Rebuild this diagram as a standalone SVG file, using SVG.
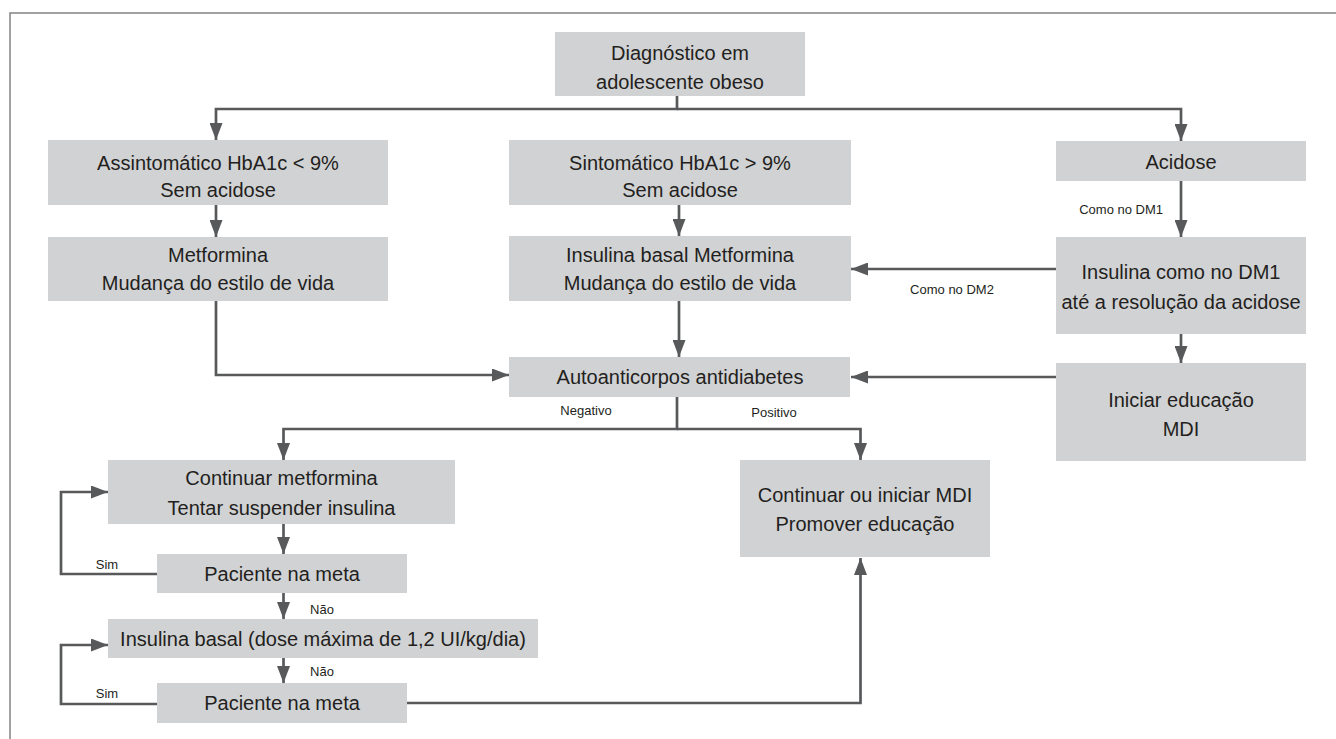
<svg xmlns="http://www.w3.org/2000/svg" width="1336" height="739" viewBox="0 0 1336 739">
<style>
.box{fill:#d1d2d4}
.t{font-family:"Liberation Sans",Arial,sans-serif;font-size:20px;fill:#231f20;text-anchor:middle;dominant-baseline:central}
.s{font-family:"Liberation Sans",Arial,sans-serif;font-size:13px;fill:#231f20;text-anchor:middle;dominant-baseline:central}
.c{fill:none;stroke:#58595b;stroke-width:2.7}
.frame{fill:none;stroke:#808285;stroke-width:1.5}
</style>
<defs>
<marker id="ah" markerUnits="userSpaceOnUse" markerWidth="17" markerHeight="13" refX="17" refY="6.5" orient="auto">
<path d="M0,0 L17,6.5 L0,13 z" fill="#58595b"/>
</marker>
</defs>
<path class="frame" d="M10,739 V13 H1336"/>
<g id="connectors">
<path class="c" d="M677,96 V109 H216 V140" marker-end="url(#ah)"/>
<path class="c" d="M677,109 H1181 V141" marker-end="url(#ah)"/>
<path class="c" d="M216,205 V237" marker-end="url(#ah)"/>
<path class="c" d="M679,205 V236" marker-end="url(#ah)"/>
<path class="c" d="M216,301 V375 H509" marker-end="url(#ah)"/>
<path class="c" d="M679,301 V357" marker-end="url(#ah)"/>
<path class="c" d="M1181,181 V237" marker-end="url(#ah)"/>
<path class="c" d="M1056,269 H851" marker-end="url(#ah)"/>
<path class="c" d="M1181,334 V363" marker-end="url(#ah)"/>
<path class="c" d="M1056,377 H851" marker-end="url(#ah)"/>
<path class="c" d="M677,397 V429 H283.5 V460" marker-end="url(#ah)"/>
<path class="c" d="M677,429 H860.5 V460" marker-end="url(#ah)"/>
<path class="c" d="M283.5,524 V554" marker-end="url(#ah)"/>
<path class="c" d="M157,574 H61 V492 H108" marker-end="url(#ah)"/>
<path class="c" d="M283.5,593 V619" marker-end="url(#ah)"/>
<path class="c" d="M283.5,658 V683" marker-end="url(#ah)"/>
<path class="c" d="M157,704 H61 V645 H108" marker-end="url(#ah)"/>
<path class="c" d="M407,703 H860.5 V558" marker-end="url(#ah)"/>
<text class="s" x="1163" y="209" style="text-anchor:end">Como no DM1</text>
<text class="s" x="952" y="289">Como no DM2</text>
<text class="s" x="586" y="410">Negativo</text>
<text class="s" x="774" y="412">Positivo</text>
<text class="s" x="107" y="564">Sim</text>
<text class="s" x="322" y="609">Não</text>
<text class="s" x="322" y="671">Não</text>
<text class="s" x="107" y="693">Sim</text>
</g>
<g id="n-diag"><rect class="box" x="555" y="32" width="250" height="64"/><text class="t" x="680" y="53">Diagnóstico em</text><text class="t" x="680" y="82">adolescente obeso</text></g>
<g id="n-assint"><rect class="box" x="48" y="140" width="340" height="65"/><text class="t" x="218" y="163">Assintomático HbA1c &lt; 9%</text><text class="t" x="218" y="190">Sem acidose</text></g>
<g id="n-sint"><rect class="box" x="509" y="140" width="342" height="65"/><text class="t" x="680" y="163">Sintomático HbA1c &gt; 9%</text><text class="t" x="680" y="190">Sem acidose</text></g>
<g id="n-acidose"><rect class="box" x="1056" y="141" width="250" height="40"/><text class="t" x="1181" y="162">Acidose</text></g>
<g id="n-metf"><rect class="box" x="48" y="237" width="340" height="64"/><text class="t" x="218" y="255">Metformina</text><text class="t" x="218" y="283">Mudança do estilo de vida</text></g>
<g id="n-insbasal"><rect class="box" x="509" y="236" width="342" height="65"/><text class="t" x="680" y="255">Insulina basal Metformina</text><text class="t" x="680" y="283">Mudança do estilo de vida</text></g>
<g id="n-auto"><rect class="box" x="509" y="357" width="341" height="40"/><text class="t" x="680" y="377">Autoanticorpos antidiabetes</text></g>
<g id="n-insdm1"><rect class="box" x="1056" y="237" width="250" height="97"/><text class="t" x="1181" y="272">Insulina como no DM1</text><text class="t" x="1181" y="302">até a resolução da acidose</text></g>
<g id="n-iniciar"><rect class="box" x="1056" y="363" width="250" height="98"/><text class="t" x="1181" y="400">Iniciar educação</text><text class="t" x="1181" y="429">MDI</text></g>
<g id="n-contmetf"><rect class="box" x="108" y="460" width="347" height="64"/><text class="t" x="281.5" y="478">Continuar metformina</text><text class="t" x="281.5" y="508">Tentar suspender insulina</text></g>
<g id="n-contmdi"><rect class="box" x="740" y="460" width="250" height="97"/><text class="t" x="865" y="495">Continuar ou iniciar MDI</text><text class="t" x="865" y="524">Promover educação</text></g>
<g id="n-pac1"><rect class="box" x="157" y="554" width="250" height="39"/><text class="t" x="282" y="574">Paciente na meta</text></g>
<g id="n-insdose"><rect class="box" x="108" y="619" width="430" height="39"/><text class="t" x="323" y="639">Insulina basal (dose máxima de 1,2 UI/kg/dia)</text></g>
<g id="n-pac2"><rect class="box" x="157" y="683" width="250" height="40"/><text class="t" x="282" y="703">Paciente na meta</text></g>
</svg>
